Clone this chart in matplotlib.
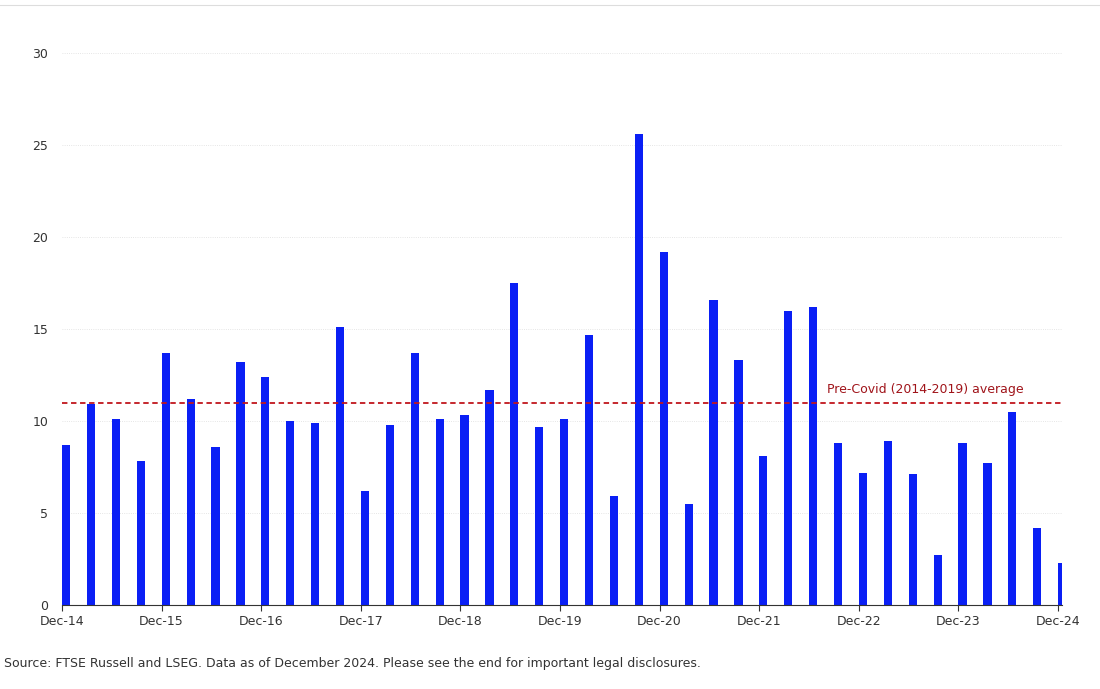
import matplotlib
matplotlib.use("Agg")
import matplotlib.pyplot as plt

values = [8.7, 10.9, 10.1, 7.8, 13.7, 11.2, 8.6, 13.2, 12.4, 10.0, 9.9, 15.1,
          6.2, 9.8, 13.7, 10.1, 10.3, 11.7, 17.5, 9.7, 10.1, 14.7, 5.9, 25.6,
          19.2, 5.5, 16.6, 13.3, 8.1, 16.0, 16.2, 8.8, 7.2, 8.9, 7.1, 2.7,
          8.8, 7.7, 10.5, 4.2, 2.3]
tick_labels = ["Dec-14", "Dec-15", "Dec-16", "Dec-17", "Dec-18", "Dec-19",
               "Dec-20", "Dec-21", "Dec-22", "Dec-23", "Dec-24"]
avg = 11.0
avg_label = "Pre-Covid (2014-2019) average"
source = "Source: FTSE Russell and LSEG. Data as of December 2024. Please see the end for important legal disclosures."

fig = plt.figure(figsize=(11, 6.89), dpi=100)
ax = fig.add_axes([62/1100, 1-605/689, 1000/1100, 552/689])
x = list(range(len(values)))
ax.bar(x, values, width=0.33, align="edge", color="#0a1ff5")
ax.axhline(avg, color="#c0161c", linestyle=(0, (3, 2)), linewidth=1.3)
ax.text(38.6, avg + 0.35, avg_label, color="#a0141a", fontsize=9, ha="right", va="bottom")
ax.set_xlim(0, 40.16)
ax.set_ylim(0, 30)
ax.set_yticks([0, 5, 10, 15, 20, 25, 30])
ax.set_xticks(range(0, 41, 4))
ax.set_xticklabels(tick_labels)
ax.grid(axis="y", color="#dddddd", linewidth=0.6, linestyle=":")
ax.set_axisbelow(True)
for s in ["top", "right", "left"]:
    ax.spines[s].set_visible(False)
ax.spines["bottom"].set_color("#333333")
ax.tick_params(axis="y", length=0, labelsize=9, colors="#333333", pad=10)
ax.tick_params(axis="x", length=4, labelsize=9, colors="#333333")
fig.add_artist(plt.Line2D([0, 1], [1-5/689]*2, color="#dddddd", linewidth=0.8))
fig.text(4/1100, 1-664/689, source, fontsize=9, color="#333333", va="center")
fig.savefig("out.png")
